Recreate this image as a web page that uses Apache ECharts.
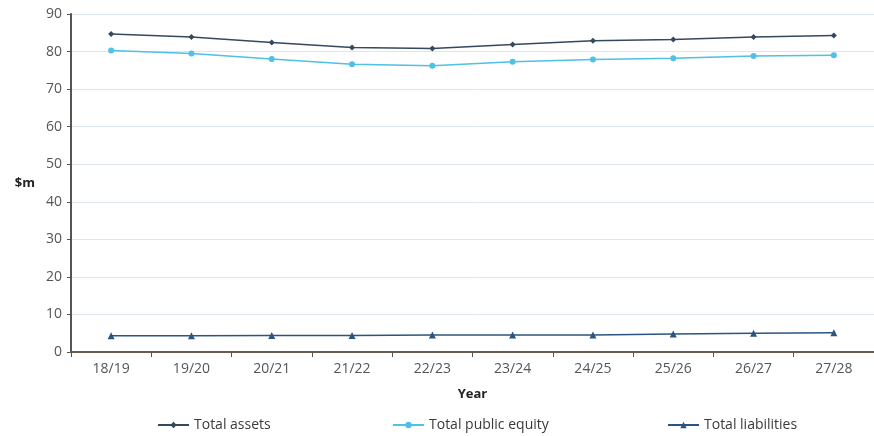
<!DOCTYPE html>
<html><head><meta charset="utf-8">
<script src="https://cdn.jsdelivr.net/npm/echarts@6/dist/echarts.min.js"></script>
<style>html,body{margin:0;padding:0;background:#fff}#c{width:874px;height:436px}</style>
</head><body><div id="c"></div>
<script>
var categories = ['18/19','19/20','20/21','21/22','22/23','23/24','24/25','25/26','26/27','27/28'];
var totalAssets = [84.7, 83.9, 82.4, 81.1, 80.8, 81.9, 82.9, 83.2, 83.9, 84.3];
var totalPublicEquity = [80.3, 79.5, 78.0, 76.6, 76.2, 77.3, 77.9, 78.2, 78.8, 79.0];
var totalLiabilities = [4.3, 4.3, 4.4, 4.4, 4.5, 4.5, 4.5, 4.8, 5.0, 5.1];
var seriesNames = ['Total assets','Total public equity','Total liabilities'];
var yTicks = [0,10,20,30,40,50,60,70,80,90];

var font = '"Open Sans", "Noto Sans", sans-serif';
var legendLefts = [157, 392, 667];
function mkLegend(i){
  return {left:legendLefts[i], top:418, padding:0, itemWidth:31, itemHeight:8, itemGap:6,
    textStyle:{fontFamily:font, fontSize:14, color:'#3a3a3a'}, data:[seriesNames[i]]};
}
var chart = echarts.init(document.getElementById('c'), null, {renderer:'canvas'});
chart.setOption({
  animation:false,
  textStyle:{fontFamily:font},
  grid:{left:71, right:0, top:14, bottom:84},
  legend:[mkLegend(0), mkLegend(1), mkLegend(2)],
  xAxis:{
    type:'category', data:categories, boundaryGap:true,
    name:'Year', nameLocation:'middle', nameGap:36,
    nameTextStyle:{fontFamily:font, fontWeight:'bold', fontSize:13, color:'#222'},
    axisLine:{lineStyle:{color:'#6b5a4e', width:2}},
    axisTick:{show:true, alignWithLabel:false, length:5, lineStyle:{color:'#555'}},
    axisLabel:{fontFamily:font, fontSize:14, color:'#555', margin:10},
    splitLine:{show:false}
  },
  yAxis:{
    type:'value', min:0, max:90, interval:10,
    name:'$m', nameLocation:'middle', nameGap:36, nameRotate:0,
    nameTextStyle:{fontFamily:font, fontWeight:'bold', fontSize:13, color:'#222'},
    axisLine:{show:true, lineStyle:{color:'#555', width:2}},
    axisTick:{show:true, length:4, lineStyle:{color:'#555'}},
    axisLabel:{fontFamily:font, fontSize:14, color:'#555', margin:9,
      formatter:function(v){return yTicks.indexOf(v)>=0 ? String(v) : '';}},
    splitLine:{show:true, lineStyle:{color:'#dde6ee', width:1}}
  },
  series:[
    {name:seriesNames[0], type:'line', data:totalAssets,
     symbol:'diamond', symbolSize:6,
     lineStyle:{color:'#34495e', width:1.5}, itemStyle:{color:'#34495e'}},
    {name:seriesNames[1], type:'line', data:totalPublicEquity,
     symbol:'circle', symbolSize:6,
     lineStyle:{color:'#4fc0e6', width:1.5}, itemStyle:{color:'#4fc0e6'}},
    {name:seriesNames[2], type:'line', data:totalLiabilities,
     symbol:'triangle', symbolSize:7,
     lineStyle:{color:'#2b5580', width:1.5}, itemStyle:{color:'#2b5580'}}
  ]
});
</script></body></html>
